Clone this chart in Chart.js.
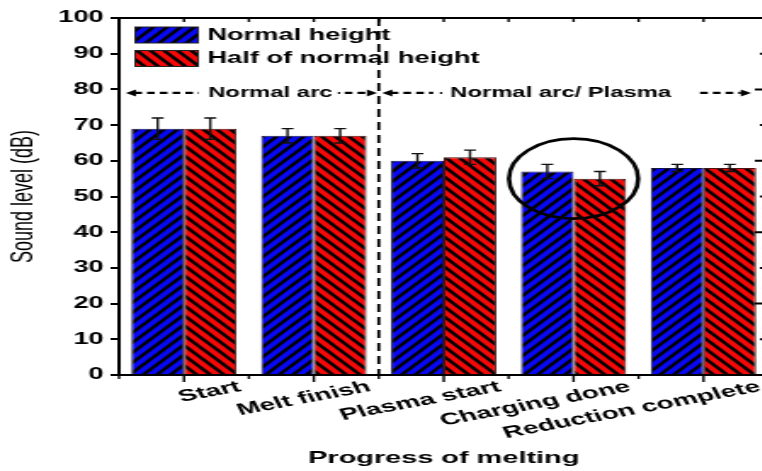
<!DOCTYPE html>
<html>
<head>
<meta charset="utf-8">
<script src="https://cdn.jsdelivr.net/npm/chart.js@4.4.1/dist/chart.umd.min.js"></script>
<style>
  html, body { margin: 0; padding: 0; background: #fff; overflow: hidden; width: 762px; height: 471px; }
  /* the figure is drawn narrow and widened horizontally */
  #wrap { position: absolute; left: 0; top: 0; width: 455px; height: 471px; transform: scaleX(1.7); transform-origin: 0 0; }
</style>
</head>
<body>
<div id="wrap"><canvas id="c" width="455" height="471" style="width:455px;height:471px"></canvas></div>
<script>
// Sound level per melting stage, two electrode heights
const stages = ['Start', 'Melt finish', 'Plasma start', 'Charging done', 'Reduction complete'];
const normalHeight = [69, 67, 60, 57, 58];
const normalHeightErr = [3, 2, 2, 2, 1];
const halfHeight = [69, 67, 61, 55, 58];
const halfHeightErr = [3, 2, 2, 2, 1];
const seriesNames = ['Normal height', 'Half of normal height'];

const FAMILY = '"Liberation Sans", Arial, sans-serif';

// diagonal black hatch on a solid fill; dir 1 = "/", -1 = "\"
function hatch(color, dir) {
  const a = 8, b = 10;
  const t = document.createElement('canvas');
  t.width = a; t.height = b;
  const g = t.getContext('2d');
  g.fillStyle = color;
  g.fillRect(0, 0, a, b);
  g.strokeStyle = '#000';
  g.lineWidth = 2.5;
  for (let n = -3; n <= 4; n++) {
    g.beginPath();
    if (dir > 0) { g.moveTo(a * (n + 1), -b); g.lineTo(a * (n - 2), 2 * b); }
    else { g.moveTo(a * (n - 1), -b); g.lineTo(a * (n + 2), 2 * b); }
    g.stroke();
  }
  return g.createPattern(t, 'repeat');
}

const blueFill = hatch('#0808f2', 1);
const redFill = hatch('#f50808', -1);

function arrowHead(ctx, x, y, dir) {
  ctx.beginPath();
  ctx.moveTo(x, y);
  ctx.lineTo(x - dir * 6, y - 3.5);
  ctx.lineTo(x - dir * 6, y + 3.5);
  ctx.closePath();
  ctx.fill();
}
function dashedH(ctx, x1, x2, y) {
  ctx.setLineDash([4.5, 3]);
  ctx.beginPath();
  ctx.moveTo(x1, y);
  ctx.lineTo(x2, y);
  ctx.stroke();
  ctx.setLineDash([]);
}

const decor = {
  id: 'decor',
  afterDatasetsDraw(chart) {
    const ctx = chart.ctx;
    const ys = chart.scales.y;
    const errs = [normalHeightErr, halfHeightErr];
    ctx.save();
    ctx.strokeStyle = '#111';
    ctx.lineWidth = 1.4;
    errs.forEach((err, di) => {
      const vals = chart.data.datasets[di].data;
      chart.getDatasetMeta(di).data.forEach((bar, i) => {
        const x = bar.x;
        const hi = ys.getPixelForValue(vals[i] + err[i]);
        const lo = ys.getPixelForValue(vals[i] - err[i]);
        ctx.beginPath();
        ctx.moveTo(x, hi); ctx.lineTo(x, lo);
        ctx.moveTo(x - 3.5, hi); ctx.lineTo(x + 3.5, hi);
        ctx.moveTo(x - 3.5, lo); ctx.lineTo(x + 3.5, lo);
        ctx.stroke();
      });
    });
    ctx.restore();
  },
  afterDraw(chart) {
    const ctx = chart.ctx;
    const { left, right, top, bottom } = chart.chartArea;
    const xs = chart.scales.x, ys = chart.scales.y;
    const centers = stages.map((s, i) => xs.getPixelForValue(i));
    const step = centers[1] - centers[0];
    const bounds = [];
    for (let i = 0; i <= stages.length; i++) bounds.push(centers[0] - step / 2 + i * step);

    ctx.save();
    ctx.strokeStyle = '#000';
    ctx.fillStyle = '#000';

    // top and right frame
    ctx.lineWidth = 2;
    ctx.beginPath();
    ctx.moveTo(left, top); ctx.lineTo(right, top);
    ctx.moveTo(right, top); ctx.lineTo(right, bottom);
    ctx.stroke();

    // bottom ticks (outward) and top ticks (inward)
    ctx.lineWidth = 1.4;
    ctx.beginPath();
    centers.forEach(x => { ctx.moveTo(x, bottom); ctx.lineTo(x, bottom + 7); ctx.moveTo(x, top); ctx.lineTo(x, top + 4); });
    bounds.forEach(x => { ctx.moveTo(x, bottom); ctx.lineTo(x, bottom + 4); ctx.moveTo(x, top); ctx.lineTo(x, top + 4); });
    ctx.stroke();

    // right axis ticks (inward)
    ctx.lineWidth = 2;
    ctx.beginPath();
    for (let v = 0; v <= 100; v += 10) {
      const y = ys.getPixelForValue(v);
      ctx.moveTo(right, y); ctx.lineTo(right - (v % 20 === 0 ? 8 : 5), y);
    }
    ctx.stroke();

    // legend
    const fills = [blueFill, redFill];
    const rowsY = [27, 50.5];
    ctx.font = 'bold 16px ' + FAMILY;
    ctx.textBaseline = 'middle';
    ctx.textAlign = 'left';
    seriesNames.forEach((name, i) => {
      const lx = left + 9.5, ly = rowsY[i];
      ctx.fillStyle = fills[i];
      ctx.fillRect(lx, ly, 37, 16);
      ctx.lineWidth = 1;
      ctx.strokeStyle = '#222';
      ctx.strokeRect(lx, ly, 37, 16);
      ctx.fillStyle = '#000';
      ctx.fillText(name, left + 52, ly + 8.5);
    });

    // stage divider between "Melt finish" and "Plasma start"
    const bx = bounds[2];
    ctx.strokeStyle = '#000';
    ctx.lineWidth = 1.8;
    ctx.setLineDash([8, 5]);
    ctx.beginPath();
    ctx.moveTo(bx, top); ctx.lineTo(bx, bottom);
    ctx.stroke();
    ctx.setLineDash([]);

    // phase arrows
    const ay = ys.getPixelForValue(79);
    ctx.lineWidth = 2.2;
    ctx.fillStyle = '#000';
    ctx.font = 'bold 14px ' + FAMILY;
    arrowHead(ctx, left + 4, ay, -1);
    dashedH(ctx, left + 9, left + 47, ay);
    ctx.fillText('Normal arc', left + 52.5, ay + 0.5);
    ctx.fillRect(bx - 24, ay - 1, 1.3, 2);
    dashedH(ctx, bx - 20, bx - 6, ay);
    arrowHead(ctx, bx - 1, ay, 1);

    arrowHead(ctx, bx + 2, ay, -1);
    dashedH(ctx, bx + 7, bx + 32, ay);
    ctx.fillRect(bx + 36, ay - 1, 1.3, 2);
    ctx.fillText('Normal arc/ Plasma', bx + 42, ay + 0.5);
    dashedH(ctx, bx + 189, bx + 213, ay);
    arrowHead(ctx, bx + 219, ay, 1);

    // ring around the "Charging done" pair
    ctx.lineWidth = 2.6;
    ctx.beginPath();
    ctx.ellipse(centers[3], ys.getPixelForValue(55), 38, 40, 0, 0, Math.PI * 2);
    ctx.stroke();

    ctx.restore();
  }
};

new Chart(document.getElementById('c'), {
  type: 'bar',
  data: {
    labels: stages,
    datasets: [
      { label: seriesNames[0], data: normalHeight, backgroundColor: blueFill, borderColor: '#15154a', borderWidth: 1 },
      { label: seriesNames[1], data: halfHeight, backgroundColor: redFill, borderColor: '#4a1515', borderWidth: 1 }
    ]
  },
  options: {
    responsive: false,
    animation: false,
    devicePixelRatio: 1,
    layout: { padding: { top: 18, right: 3, left: 0, bottom: 0 } },
    plugins: { legend: { display: false }, tooltip: { enabled: false } },
    datasets: { bar: { categoryPercentage: 0.81, barPercentage: 1 } },
    scales: {
      x: {
        grid: { display: true, drawOnChartArea: false, drawTicks: false, color: 'rgba(0,0,0,0)' },
        border: { display: true, color: '#000', width: 2 },
        ticks: {
          color: '#000', font: { family: FAMILY, size: 16.5, weight: 'bold' },
          minRotation: 17.5, maxRotation: 17.5, autoSkip: false, padding: 2, labelOffset: 33
        },
        title: {
          display: true, text: 'Progress of melting', color: '#000',
          font: { family: FAMILY, size: 17, weight: 'bold' }, padding: { top: 0, bottom: 2 }
        },
        afterFit(s) { s.height = 96; s.paddingLeft = 0; s.paddingRight = 0; }
      },
      y: {
        min: 0, max: 100,
        ticks: { stepSize: 10, color: '#000', font: { family: FAMILY, size: 16, weight: 'bold' }, padding: 4 },
        grid: { drawOnChartArea: false, drawTicks: true, tickLength: 5, color: '#000', lineWidth: 2 },
        border: { display: true, color: '#000', width: 2 },
        title: {
          display: true, text: 'Sound level (dB)', color: '#000',
          font: { family: FAMILY, size: 18 }, padding: { top: 3, bottom: 0 }
        },
        afterFit(s) { s.width = 70; s.paddingTop = 0; s.paddingBottom = 0; }
      }
    }
  },
  plugins: [decor]
});
</script>
</body>
</html>
